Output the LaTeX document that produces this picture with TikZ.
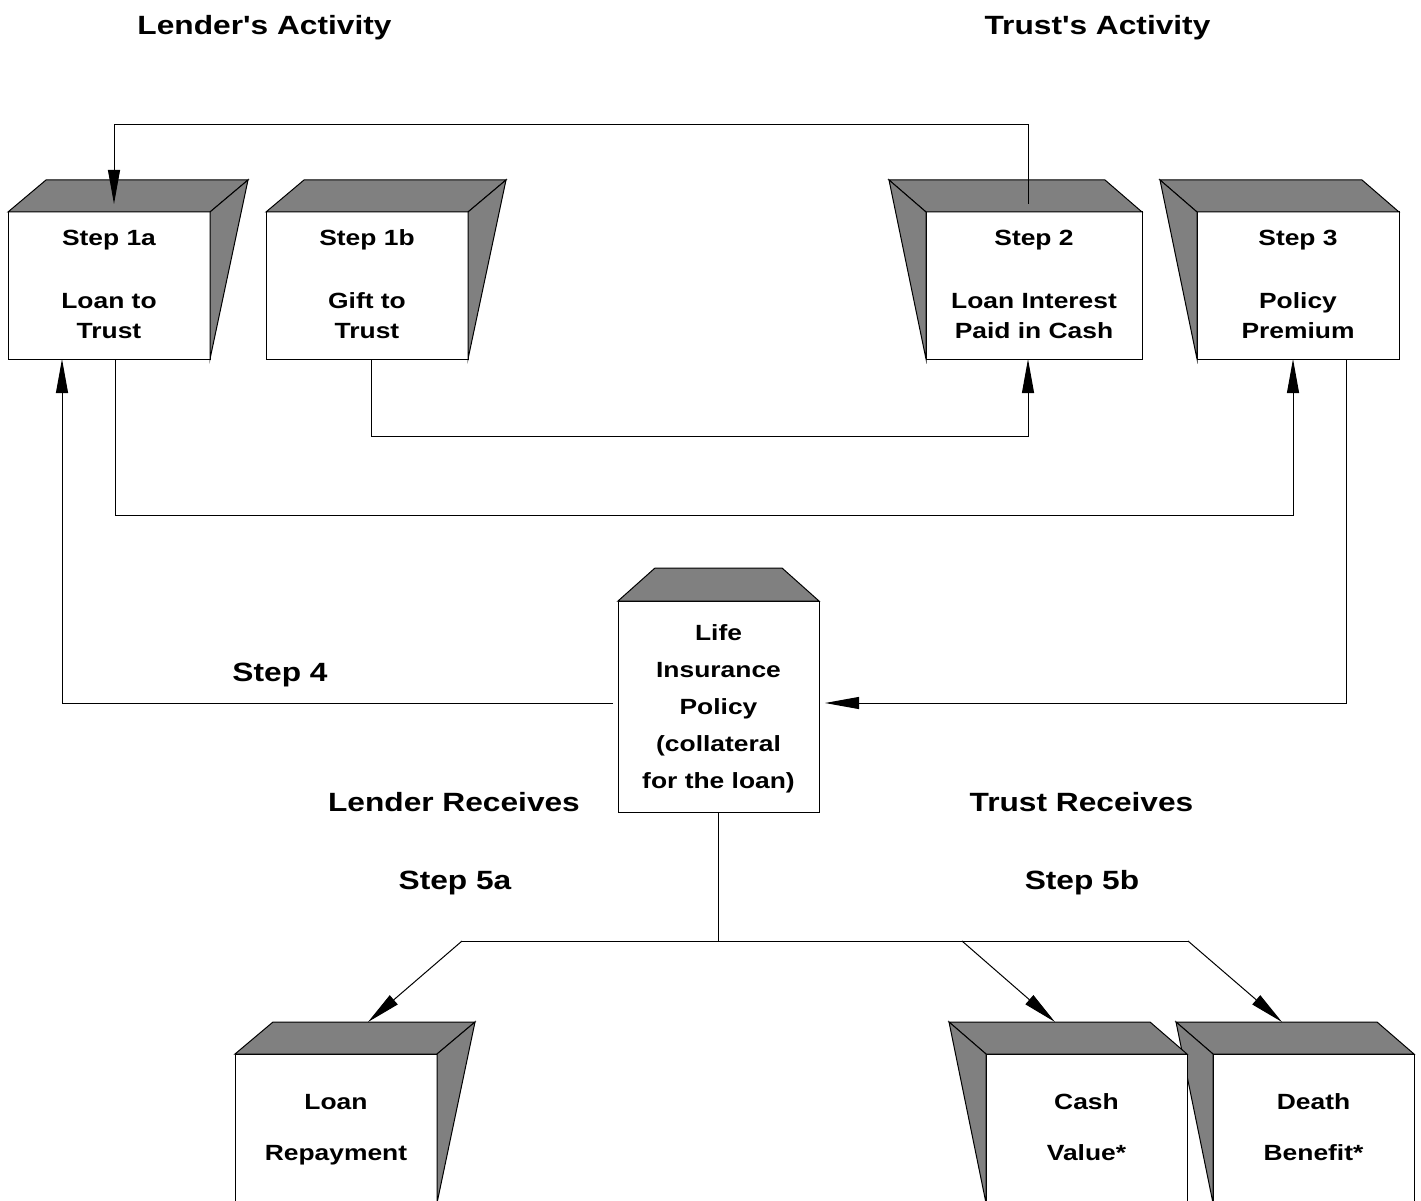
\documentclass[tikz,border=0pt]{standalone}
\usepackage{fontspec}
\newfontfamily\lab{Liberation Sans}
\usetikzlibrary{arrows.meta,calc}
\definecolor{shadegray}{HTML}{808080}
\newcommand{\wide}[1]{\scalebox{1.2}[1]{#1}}
\tikzset{
  front/.style={draw, fill=white, line width=1pt, inner sep=0pt, outer sep=0pt},
  face/.style={draw, fill=shadegray, line width=1pt},
  conn/.style={line width=1pt},
  arr/.style={conn, -{Triangle[length=34pt,width=12pt]}},
  boxtxt/.style={font=\lab\bfseries\fontsize{22}{26}\selectfont, anchor=base, inner sep=0pt},
  headtxt/.style={font=\lab\bfseries\fontsize{26.4}{32}\selectfont, anchor=base, inner sep=0pt},
}
\newcommand{\facesR}[1]{%
  \draw[face] (#1.north west) -- ++(38,-32) -- ($(#1.north east)+(38,-32)$) -- (#1.north east) -- cycle;
  \draw[face] (#1.north east) -- ++(38,-32) -- (#1.south east) -- cycle;}
\newcommand{\facesL}[1]{%
  \draw[face] (#1.north west) -- ++(-37,-32) -- ($(#1.north east)+(-37,-32)$) -- (#1.north east) -- cycle;
  \draw[face] (#1.north west) -- ++(-37,-32) -- (#1.south west) -- cycle;}
\begin{document}
\begin{tikzpicture}[x=1pt,y=-1pt]
\useasboundingbox[fill=white] (0,0) rectangle (1421,1201);

% headings
\node[headtxt] (hLA) at (264.5,34.5) {\wide{Lender's Activity}};
\node[headtxt] (hTA) at (1097.5,34.5) {\wide{Trust's Activity}};
\node[headtxt] (hS4) at (280,681) {\wide{Step 4}};
\node[headtxt] (hLR) at (454,811) {\wide{Lender Receives}};
\node[headtxt] (hTR) at (1081.5,811) {\wide{Trust Receives}};
\node[headtxt] (hS5a) at (455,889) {\wide{Step 5a}};
\node[headtxt] (hS5b) at (1082,889) {\wide{Step 5b}};

% top row boxes
\node[front, minimum width=202pt, minimum height=147pt] (s1a) at (109,285.5) {};
\facesR{s1a}
\node[front, minimum width=202pt, minimum height=147pt] (s1b) at (367,285.5) {};
\facesR{s1b}
\node[front, minimum width=216pt, minimum height=147pt] (s2) at (1034,285.5) {};
\facesL{s2}
\node[front, minimum width=202pt, minimum height=147pt] (s3) at (1298,285.5) {};
\facesL{s3}

% life insurance policy box
\node[front, minimum width=201pt, minimum height=211pt] (life) at (718.5,706.5) {};
\draw[face] (life.north west) -- ++(37,-33) -- ($(life.north east)+(-37,-33)$) -- (life.north east) -- cycle;

% bottom row boxes
\node[front, minimum width=202pt, minimum height=149pt] (lr) at (336,1128.5) {};
\facesR{lr}
\node[front, minimum width=201pt, minimum height=149pt] (db) at (1313.5,1128.5) {};
\facesL{db}
\node[front, minimum width=201pt, minimum height=149pt] (cv) at (1086.5,1128.5) {};
\facesL{cv}

% box texts
\node[boxtxt] (t1a1) at (109,245) {\wide{Step 1a}};
\node[boxtxt] (t1a2) at (109,308) {\wide{Loan to}};
\node[boxtxt] (t1a3) at (109,338) {\wide{Trust}};
\node[boxtxt] (t1b1) at (367,245) {\wide{Step 1b}};
\node[boxtxt] (t1b2) at (367,308) {\wide{Gift to}};
\node[boxtxt] (t1b3) at (367,338) {\wide{Trust}};
\node[boxtxt] (t21) at (1034,245) {\wide{Step 2}};
\node[boxtxt] (t22) at (1034,308) {\wide{Loan Interest}};
\node[boxtxt] (t23) at (1034,338) {\wide{Paid in Cash}};
\node[boxtxt] (t31) at (1298,245) {\wide{Step 3}};
\node[boxtxt] (t32) at (1298,308) {\wide{Policy}};
\node[boxtxt] (t33) at (1298,338) {\wide{Premium}};
\node[boxtxt] (tl1) at (718.5,640) {\wide{Life}};
\node[boxtxt] (tl2) at (718.5,677) {\wide{Insurance}};
\node[boxtxt] (tl3) at (718.5,714) {\wide{Policy}};
\node[boxtxt] (tl4) at (718.5,751) {\wide{(collateral}};
\node[boxtxt] (tl5) at (718.5,788) {\wide{for the loan)}};
\node[boxtxt] (tlr1) at (336,1109) {\wide{Loan}};
\node[boxtxt] (tlr2) at (336,1160) {\wide{Repayment}};
\node[boxtxt] (tcv1) at (1086.5,1109) {\wide{Cash}};
\node[boxtxt] (tcv2) at (1086.5,1160) {\wide{Value*}};
\node[boxtxt] (tdb1) at (1313.5,1109) {\wide{Death}};
\node[boxtxt] (tdb2) at (1313.5,1160) {\wide{Benefit*}};

% connector anchor points
\coordinate (p2top) at ($(s2.north)+(-6,-8)$);
\coordinate (p1atop) at ($(s1a.north west)+(106,-8)$);
\coordinate (lrtip) at ($(lr.north west)+(133,-32)$);
\coordinate (cvtip) at ($(cv.north west)+(69,-32)$);
\coordinate (dbtip) at ($(db.north west)+(69,-32)$);
\coordinate (hl) at (462,941);
\coordinate (hm) at (962,941);
\coordinate (hr) at (1188,941);

% connectors
\draw[arr] (p2top) -- ++(0,-79) -| (p1atop);
\draw[arr] ([xshift=4pt]s1b.south) -- ++(0,77) -| ([xshift=-6pt]s2.south);
\draw[arr] ([xshift=6pt]s1a.south) -- ++(0,156) -| ([xshift=-5pt]s3.south);
\draw[arr] ([xshift=48pt]s3.south) |- ($(life.east)+(6,-3.5)$);
\draw[arr] ($(life.west)+(-5,-3.5)$) -| ([xshift=54pt]s1a.south west);
\draw[conn] (life.south) -- (life.south |- hl);
\draw[conn] (hl) -- (hr);
\draw[arr] (hl) -- (lrtip);
\draw[arr] (hm) -- (cvtip);
\draw[arr] (hr) -- (dbtip);
\end{tikzpicture}
\end{document}
